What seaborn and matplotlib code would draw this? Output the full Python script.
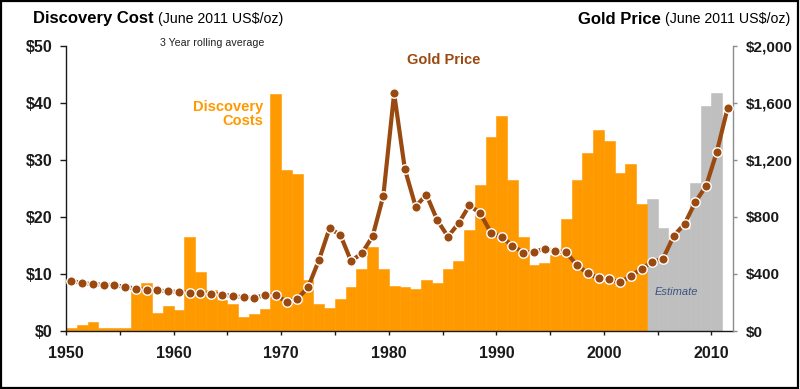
import numpy as np
import pandas as pd
import matplotlib
matplotlib.use("Agg")
import matplotlib.pyplot as plt
import seaborn as sns
from matplotlib import font_manager
from matplotlib.patches import Rectangle
from matplotlib.ticker import FixedLocator, MultipleLocator

# ---------------- data ----------------
years = list(range(1950, 2011))
discovery_cost = [0.5, 1.1, 1.6, 0.6, 0.6, 0.6, 7.1, 8.4, 3.2, 4.3,
                  3.6, 16.5, 10.3, 7.2, 5.4, 4.7, 2.4, 2.9, 3.9, 41.6,
                  28.3, 27.6, 9.0, 4.8, 4.0, 5.7, 7.7, 10.8, 14.7, 10.8,
                  7.9, 7.7, 7.3, 8.9, 8.4, 10.9, 12.2, 17.7, 25.6, 34.0,
                  37.8, 26.5, 16.5, 11.6, 11.9, 13.3, 19.6, 26.5, 31.3, 35.3,
                  33.3, 27.8, 29.3, 22.2, 23.2, 18.1, 16.0, 17.9, 26.0, 39.5,
                  41.7]
first_estimate_year = 2004

gold_years = list(range(1950, 2012))
gold_price = [351, 337, 328, 325, 323, 309, 297, 288, 285, 278,
              274, 269, 264, 262, 255, 246, 236, 232, 253, 250,
              206, 225, 307, 495, 721, 674, 491, 545, 664, 950,
              1668, 1135, 873, 957, 779, 662, 756, 882, 826, 690,
              658, 599, 550, 554, 578, 561, 552, 461, 405, 370,
              363, 342, 384, 437, 484, 508, 669, 751, 905, 1018,
              1258, 1565]

x_ticks = [1950, 1960, 1970, 1980, 1990, 2000, 2010]
left_ticks = [0, 10, 20, 30, 40, 50]
left_labels = ["$0", "$10", "$20", "$30", "$40", "$50"]
right_ticks = [0, 400, 800, 1200, 1600, 2000]
right_labels = ["$0", "$400", "$800", "$1,200", "$1,600", "$2,000"]

ORANGE = "#FF9900"
GRAY = "#BFBFBF"
BROWN = "#9A4A10"
DARK = "#1a1a1a"

# ---------------- style ----------------
sns.set_style("white")
avail = {f.name for f in font_manager.fontManager.ttflist}
MAIN = "Liberation Sans"
NARROW = "Liberation Sans Narrow" if "Liberation Sans Narrow" in avail else "Liberation Sans"
narrow_scale = 1.0 if NARROW == "Liberation Sans Narrow" else 0.85
plt.rcParams["font.family"] = [MAIN, "DejaVu Sans"]

fig = plt.figure(figsize=(8.0, 3.89), dpi=100)
ax = fig.add_axes([66 / 800, 1 - 331 / 389, (733 - 66) / 800, (331 - 46) / 389])

df = pd.DataFrame({
    "year": years,
    "cost": discovery_cost,
    "kind": ["Actual" if y < first_estimate_year else "Estimate" for y in years],
})

bin_edges = list(range(1950, 2012))
sns.histplot(data=df, x="year", weights="cost", hue="kind",
             bins=bin_edges, multiple="layer",
             palette={"Actual": ORANGE, "Estimate": GRAY},
             alpha=1, linewidth=0.4, legend=False, ax=ax)
for p in ax.patches:
    p.set_edgecolor(p.get_facecolor())

ax.set_xlim(1950, 2012)
ax.set_ylim(0, 50)
ax.set_xlabel("")
ax.set_ylabel("")

ax2 = ax.twinx()
sns.lineplot(x=np.array(gold_years) + 0.5, y=gold_price, ax=ax2,
             color=BROWN, linewidth=3.0, marker="o", markersize=6.8,
             markeredgecolor="white", markeredgewidth=1.0, zorder=5)
ax2.set_ylim(0, 2000)
ax2.set_xlim(1950, 2012)
ax2.set_ylabel("")
ax2.set_xlabel("")

# spines
for s in ["top", "right"]:
    ax.spines[s].set_visible(False)
ax.spines["left"].set_color(DARK)
ax.spines["bottom"].set_color(DARK)
ax.spines["left"].set_linewidth(1.0)
ax.spines["bottom"].set_linewidth(1.0)
for s in ["top", "left", "bottom"]:
    ax2.spines[s].set_visible(False)
ax2.spines["right"].set_color("#8c8c8c")
ax2.spines["right"].set_linewidth(1.0)

# ticks
ax.xaxis.set_major_locator(FixedLocator(x_ticks))
ax.xaxis.set_minor_locator(MultipleLocator(5))
ax.set_xticklabels([str(v) for v in x_ticks])
ax.yaxis.set_major_locator(FixedLocator(left_ticks))
ax.set_yticklabels(left_labels)
ax2.yaxis.set_major_locator(FixedLocator(right_ticks))
ax2.set_yticklabels(right_labels)

ax.tick_params(axis="x", which="both", direction="out", length=3, width=1,
               color=DARK, pad=8, labelsize=11.5, bottom=True)
ax.tick_params(axis="y", direction="out", length=4, width=1, color=DARK,
               pad=6, labelsize=11.5, left=True)
ax2.tick_params(axis="y", direction="out", length=3, width=1, color="#8c8c8c",
                pad=6, labelsize=11, right=True)
for lab in ax.get_xticklabels() + ax.get_yticklabels() + ax2.get_yticklabels():
    lab.set_fontweight("bold")
    lab.set_color(DARK)

# annotations
ax.text(1968.35, 38.1, "Discovery\nCosts", color=ORANGE, fontsize=10.5,
        fontweight="bold", ha="right", va="center", linespacing=1.05)
ax.text(1985.1, 47.5, "Gold Price", color=BROWN, fontsize=10.5,
        fontweight="bold", ha="center", va="center", zorder=6)
ax.text(2006.75, 6.8, "Estimate", color="#3F5380", fontsize=8,
        fontstyle="italic", ha="center", va="center", family=[NARROW, "DejaVu Sans"])

# titles
W, H = 800, 389
fig.canvas.draw()
r = fig.canvas.get_renderer()
t1 = fig.text(33 / W, 1 - 19 / H, "Discovery Cost", fontsize=12, fontweight="bold",
              ha="left", va="center", color="black")
fig.canvas.draw()
bb = t1.get_window_extent(r)
fig.text((bb.x1 + 4) / W, 1 - 19 / H, "(June 2011 US$/oz)", fontsize=12 * narrow_scale,
         ha="left", va="center", color="black", family=[NARROW, "DejaVu Sans"])

t3 = fig.text(790 / W, 1 - 19 / H, "(June 2011 US$/oz)", fontsize=12 * narrow_scale,
              ha="right", va="center", color="black", family=[NARROW, "DejaVu Sans"])
fig.canvas.draw()
bb3 = t3.get_window_extent(r)
fig.text((bb3.x0 - 4) / W, 1 - 19 / H, "Gold Price", fontsize=12, fontweight="bold",
         ha="right", va="center", color="black")

fig.text(212 / W, 1 - 43 / H, "3 Year rolling average", fontsize=9 * narrow_scale,
         ha="center", va="center", color="#222222", family=[NARROW, "DejaVu Sans"])

# frame around the whole picture
fig.patches.append(Rectangle((0.001, 0.002), 0.997, 0.995, transform=fig.transFigure,
                             fill=False, edgecolor="black", linewidth=1.6))

fig.savefig("out.png", dpi=100)
